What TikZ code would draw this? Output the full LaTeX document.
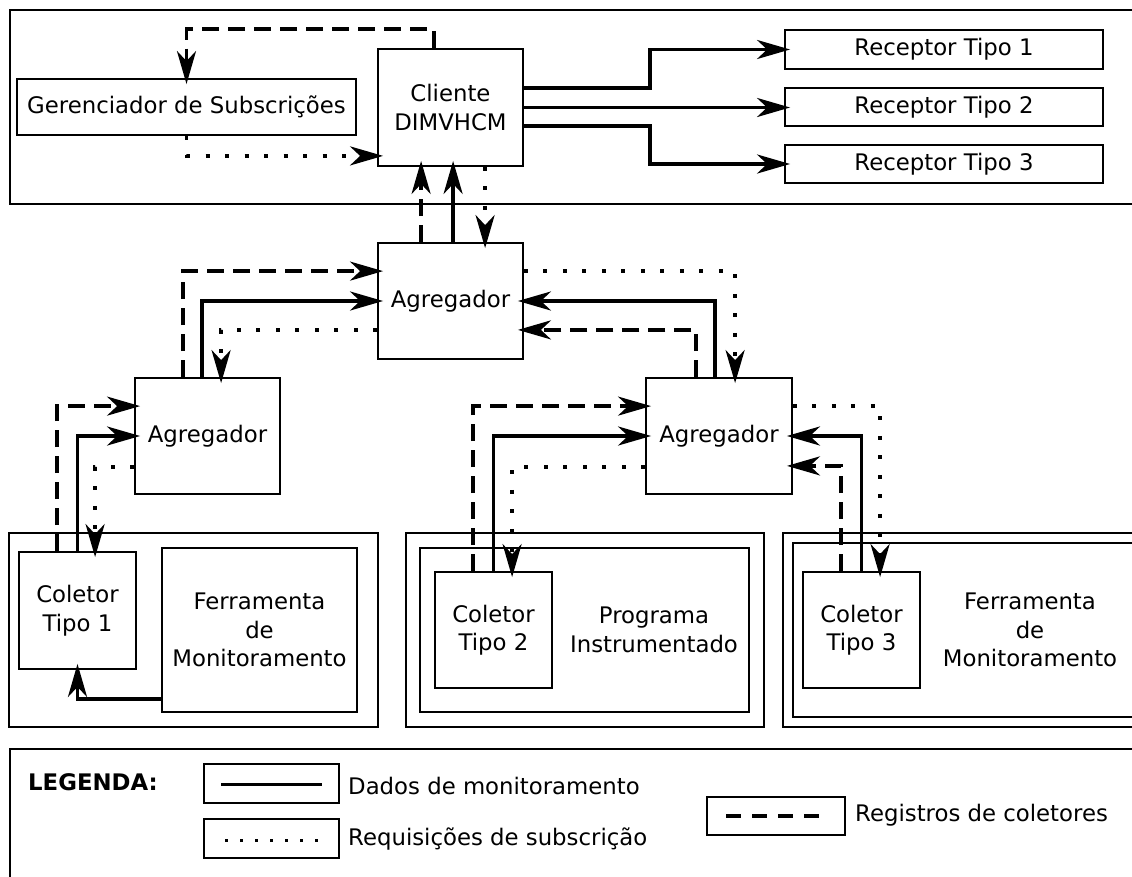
\documentclass[tikz,border=0pt]{standalone}
\usepackage{fontspec}
\setmainfont{DejaVu Sans}
\usetikzlibrary{arrows.meta,calc}

\begin{document}
\begin{tikzpicture}[x=1pt,y=-1pt,
  txt/.style={font=\fontsize{22.8}{28.5}\selectfont, align=center},
  box/.style={draw, line width=1.8pt, fill=white, inner sep=0pt, txt},
  frame/.style={draw, line width=2.2pt, inner sep=0pt},
  data/.style={line width=3.8pt},
  reg/.style={line width=3.8pt, dash pattern=on 17pt off 9pt},
  req/.style={line width=3.8pt, dash pattern=on 4pt off 15.5pt},
  tip/.style={-{Stealth[length=33pt,width=19pt,inset=10pt]}, shorten >=-6pt},
]
\useasboundingbox (0,0) rectangle (1132,876);
\fill[white] (0,0) rectangle (1132,876);
\clip (0,0) rectangle (1132,876);

% ---------- client area ----------
\node[frame, minimum width=1140pt, minimum height=194pt] (top) at (580,107) {};
\node[box, minimum width=339pt, minimum height=56pt] (ger) at (186.5,107) {Gerenciador de Subscrições};
\node[box, minimum width=145pt, minimum height=117pt] (cli) at (450.5,107.5) {Cliente\\DIMVHCM};
\node[box, minimum width=318pt, minimum height=39pt] (r1) at (944,49.5) {Receptor Tipo 1};
\node[box, minimum width=318pt, minimum height=38pt] (r2) at (944,107) {Receptor Tipo 2};
\node[box, minimum width=318pt, minimum height=38pt] (r3) at (944,164) {Receptor Tipo 3};

% ---------- aggregators ----------
\node[box, minimum width=145pt, minimum height=116pt] (a0) at (450.5,301) {Agregador};
\node[box, minimum width=145pt, minimum height=116pt] (a1) at (207.5,436) {Agregador};
\node[box, minimum width=146pt, minimum height=116pt] (a2) at (719,436) {Agregador};

% ---------- collectors ----------
\node[frame, minimum width=369pt, minimum height=194pt] (f1) at (193.5,630) {};
\node[box, minimum width=117pt, minimum height=117pt] (col1) at (77.5,610.5) {Coletor\\Tipo 1};
\node[box, minimum width=195pt, minimum height=164pt] (fer1) at (259.5,630) {Ferramenta\\de\\Monitoramento};

\node[frame, minimum width=358pt, minimum height=194pt] (f2) at (585,630) {};
\node[frame, minimum width=329pt, minimum height=164pt] (prog) at (584.5,630) {};
\node[txt] (progtxt) at (654,630) {Programa\\Instrumentado};
\node[box, minimum width=117pt, minimum height=116pt] (col2) at (493.5,630) {Coletor\\Tipo 2};

\node[frame, minimum width=362pt, minimum height=194pt] (f3) at (964,630) {};
\node[frame, minimum width=345pt, minimum height=174pt] (fer3) at (965.5,630) {};
\node[txt] (fer3txt) at (1030,630) {Ferramenta\\de\\Monitoramento};
\node[box, minimum width=117pt, minimum height=116pt] (col3) at (861.5,630) {Coletor\\Tipo 3};

% ---------- connectors: client area ----------
\draw[reg,tip] ($(cli.north west)+(57,0)$) -- ++(0,-19) -| (ger.north);
\draw[req,tip] (ger.south) |- ($(cli.south west)+(0,-11)$);
\draw[data,tip] ($(cli.east)+(0,-19.5)$) -- ++(126,0) |- (r1.west);
\draw[data,tip] (cli.east) -- (cli.east -| r2.west);
\draw[data,tip] ($(cli.east)+(0,18.5)$) -- ++(126,0) |- (r3.west);

% ---------- connectors: aggregators to client ----------
\draw[reg,tip] ($(a0.north west)+(44,0)$) -- ($(cli.south west)+(44,0)$);
\draw[data,tip] ($(a0.north west)+(76,0)$) -- ($(cli.south west)+(76,0)$);
\draw[req,tip] ($(cli.south west)+(108,0)$) -- ($(a0.north west)+(108,0)$);

\draw[reg,tip] ($(a1.north west)+(49,0)$) |- ($(a0.north west)+(0,29)$);
\draw[data,tip] ($(a1.north west)+(68,0)$) |- (a0.west);
\draw[req,tip] ($(a0.south west)+(0,-30)$) -| ($(a1.north west)+(87,0)$);

\draw[req,tip] ($(a0.north east)+(0,29)$) -| ($(a2.north west)+(90,0)$);
\draw[data,tip] ($(a2.north west)+(70,0)$) |- (a0.east);
\draw[reg,tip] ($(a2.north west)+(51,0)$) |- ($(a0.south east)+(0,-30)$);

% ---------- connectors: collectors ----------
\draw[reg,tip] ($(col1.north west)+(39,0)$) |- ($(a1.north west)+(0,29)$);
\draw[data,tip] (col1.north) |- (a1.west);
\draw[req,tip] ($(a1.south west)+(0,-28)$) -| ($(col1.north west)+(77,0)$);
\draw[data,tip] ($(fer1.south west)+(0,-14)$) -| (col1.south);

\draw[reg,tip] ($(col2.north west)+(39,0)$) |- ($(a2.north west)+(0,29)$);
\draw[data,tip] (col2.north) |- (a2.west);
\draw[req,tip] ($(a2.south west)+(0,-28)$) -| ($(col2.north west)+(78,0)$);

\draw[req,tip] ($(a2.north east)+(0,29)$) -| ($(col3.north west)+(78,0)$);
\draw[data,tip] (col3.north) |- (a2.east);
\draw[reg,tip] ($(col3.north west)+(39,0)$) |- ($(a2.south east)+(0,-29)$);

% ---------- legend ----------
\node[frame, minimum width=1140pt, minimum height=150pt] (leg) at (580,824) {};
\node[txt, font=\fontsize{22.8}{28.5}\selectfont\bfseries, anchor=west, inner sep=0pt] (legtitle) at (28,782) {LEGENDA:};

\node[box, minimum width=135pt, minimum height=39pt] (ls) at (271.5,783.5) {};
\draw[line width=3pt] ($(ls.west)+(18,1)$) -- ($(ls.east)+(-18,1)$);
\node[txt, anchor=west, inner sep=0pt] (lstxt) at (348,786) {Dados de monitoramento};

\node[box, minimum width=135pt, minimum height=39pt] (lr) at (271.5,838.5) {};
\draw[line width=3pt, dash pattern=on 3pt off 12pt] ($(lr.west)+(22,1.5)$) -- ($(lr.east)+(-16,1.5)$);
\node[txt, anchor=west, inner sep=0pt] (lrtxt) at (348,839) {Requisições de subscrição};

\node[box, minimum width=138pt, minimum height=38pt] (lg) at (776,816) {};
\draw[line width=3.5pt, dash pattern=on 15pt off 11pt] ($(lg.west)+(20,0)$) -- ($(lg.east)+(-16,0)$);
\node[txt, anchor=west, inner sep=0pt] (lgtxt) at (855,815) {Registros de coletores};
\end{tikzpicture}
\end{document}
